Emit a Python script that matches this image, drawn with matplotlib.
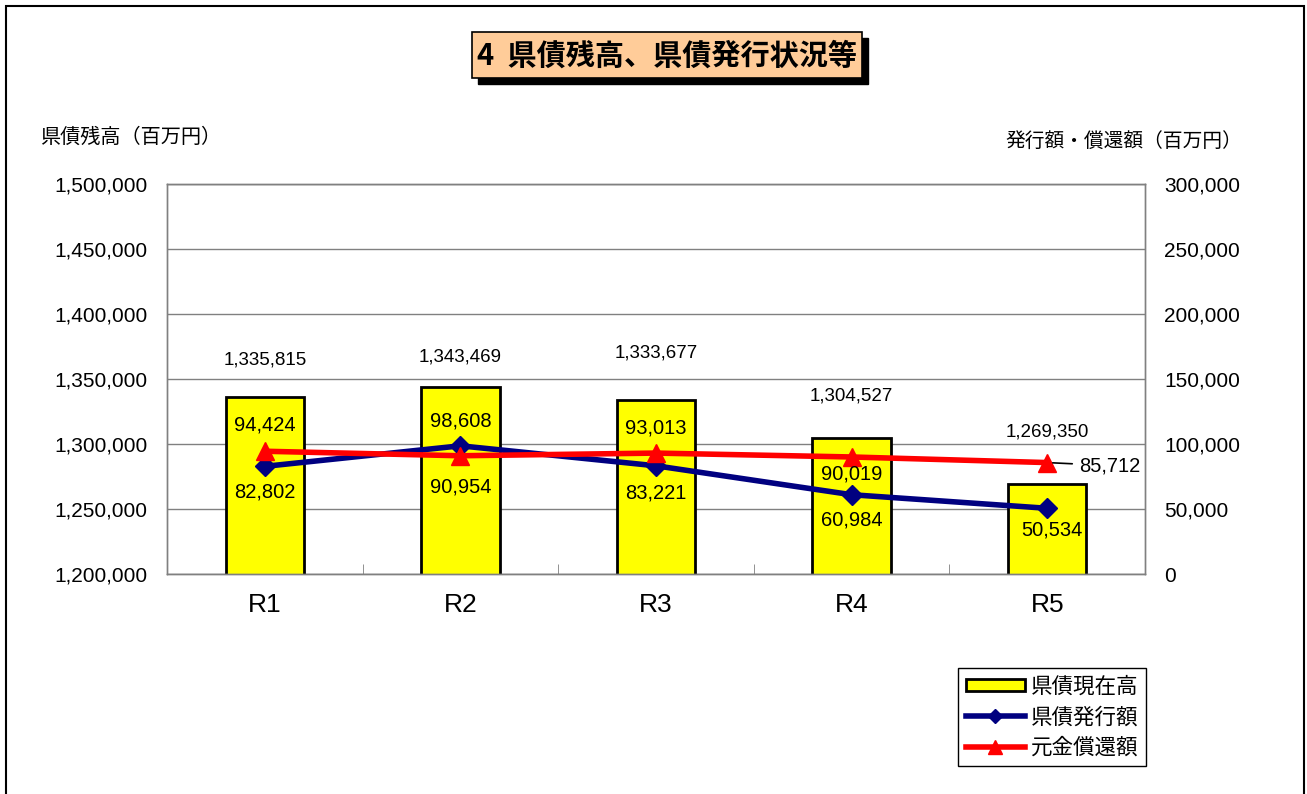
import matplotlib.pyplot as plt
import matplotlib.patches as mpatches
from matplotlib.lines import Line2D
from matplotlib.ticker import FuncFormatter
import numpy as np

plt.rcParams['font.family'] = ['Liberation Sans', 'Noto Sans CJK JP']

years = ["R1", "R2", "R3", "R4", "R5"]
balance = [1335815, 1343469, 1333677, 1304527, 1269350]   # 県債現在高
issued = [82802, 98608, 83221, 60984, 50534]             # 県債発行額
redeemed = [94424, 90954, 93013, 90019, 85712]           # 元金償還額

# label offsets in pixels, placed by hand in the original
balance_dy = [37, 30, 47, 42, 52]
issued_dy = [-26, 25, -27, -25, -22]
redeemed_dy = [26, -31, 25, -17, 0]

W, H = 1307, 794


def fx(px):
    return px / W


def fy(py):
    return 1 - py / H


fig = plt.figure(figsize=(W / 100, H / 100), dpi=100)

# outer frame of the chart area
fig.patches.append(mpatches.Rectangle((fx(6), -0.1), fx(1304) - fx(6), fy(6) + 0.1,
                                      transform=fig.transFigure, fill=False,
                                      edgecolor='black', lw=1.5))

ax = fig.add_axes([fx(167), fy(574), fx(1145) - fx(167), fy(184) - fy(574)])
ax2 = ax.twinx()

x = np.arange(len(years))
grey = '#808080'

ax.bar(x, balance, width=0.40, color='#FFFF00', edgecolor='black', lw=2, zorder=2)
ax.set_ylim(1200000, 1500000)
ax.set_yticks(np.arange(1200000, 1500001, 50000))
ax.set_xlim(-0.5, len(years) - 0.5)
ax.set_xticks(x)
ax.set_xticklabels(years, fontsize=19)
ax.set_xticks(x[:-1] + 0.5, minor=True)
ax.tick_params(axis='x', which='major', length=0, pad=14)
ax.tick_params(axis='x', which='minor', direction='in', length=7, color=grey)
ax.tick_params(axis='y', length=0, pad=14, labelsize=15)
ax.yaxis.set_major_formatter(FuncFormatter(lambda v, p: f"{int(v):,}"))
ax.grid(axis='y', color=grey, lw=1)
ax.set_axisbelow(True)

ax2.plot(x, issued, color='#000080', lw=4, marker='D', ms=10, zorder=3)
ax2.plot(x, redeemed, color='#FF0000', lw=4, marker='^', ms=13, zorder=4)
ax2.set_ylim(0, 300000)
ax2.set_yticks(np.arange(0, 300001, 50000))
ax2.tick_params(axis='y', length=0, pad=14, labelsize=15)
ax2.yaxis.set_major_formatter(FuncFormatter(lambda v, p: f"{int(v):,}"))

for a in (ax, ax2):
    for s in a.spines.values():
        s.set_color(grey)
        s.set_linewidth(1)

# data labels
for i, v in enumerate(balance):
    ax.annotate(f"{v:,}", (x[i], v), xytext=(0, balance_dy[i]), textcoords='offset pixels',
                ha='center', va='center', fontsize=13.5)
for i, v in enumerate(issued):
    dx = 5 if i == len(issued) - 1 else 0
    ax2.annotate(f"{v:,}", (x[i], v), xytext=(dx, issued_dy[i]), textcoords='offset pixels',
                 ha='center', va='center', fontsize=14.5, zorder=6)
for i, v in enumerate(redeemed):
    if i == len(redeemed) - 1:
        ax2.annotate(f"{v:,}", (x[i], v), xytext=(32, -3), textcoords='offset pixels',
                     ha='left', va='center', fontsize=14.5, zorder=6,
                     arrowprops=dict(arrowstyle='-', color='black', lw=1.2,
                                     shrinkA=3, shrinkB=4))
    else:
        ax2.annotate(f"{v:,}", (x[i], v), xytext=(0, redeemed_dy[i]), textcoords='offset pixels',
                     ha='center', va='center', fontsize=14.5, zorder=6)

# axis titles
fig.text(fx(40), fy(137), "県債残高（百万円）", ha='left', va='center', fontsize=14.5,
         family=['Noto Sans CJK JP'])
fig.text(fx(1242), fy(141), "発行額・償還額（百万円）", ha='right', va='center', fontsize=14.2,
         family=['Noto Sans CJK JP'])

# title box with shadow
fig.patches.append(mpatches.Rectangle((fx(478), fy(84)), fx(862) - fx(472), fy(32) - fy(78),
                                      transform=fig.transFigure, facecolor='black',
                                      edgecolor='black'))
fig.patches.append(mpatches.Rectangle((fx(472), fy(78)), fx(862) - fx(472), fy(32) - fy(78),
                                      transform=fig.transFigure, facecolor='#FFCC99',
                                      edgecolor='black', lw=1.2))
fig.text(fx(667), fy(56), "4  県債残高、県債発行状況等", ha='center', va='center',
         fontsize=21, fontweight='bold', family=['Noto Sans CJK JP'])

# legend
handles = [
    mpatches.Patch(facecolor='#FFFF00', edgecolor='black', lw=2),
    Line2D([], [], color='#000080', lw=4, marker='D', ms=7),
    Line2D([], [], color='#FF0000', lw=4, marker='^', ms=10),
]
labels = ["県債現在高", "県債発行額", "元金償還額"]
leg = ax2.legend(handles, labels, loc='upper left', bbox_to_anchor=(fx(958), fy(668)),
                 bbox_transform=fig.transFigure, fancybox=False, framealpha=1,
                 edgecolor='black', handlelength=2.75, handleheight=0.5,
                 borderpad=0.35, labelspacing=0.4, handletextpad=0.3, borderaxespad=0,
                 prop={'family': ['Noto Sans CJK JP'], 'size': 15.5})
leg.get_frame().set_linewidth(1)

fig.savefig("out.png", dpi=100)
